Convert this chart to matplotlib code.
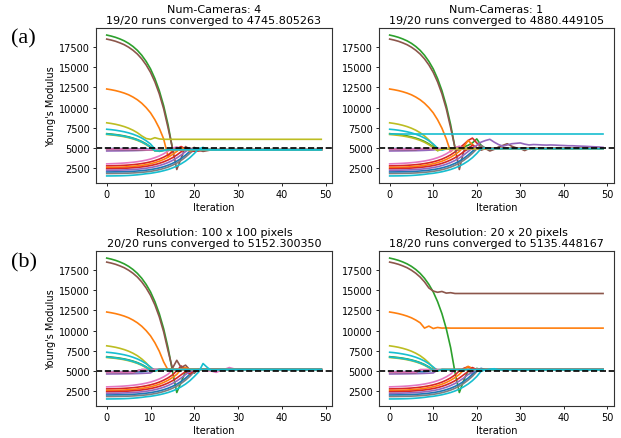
"""
Young's modulus estimation runs: convergence per iteration, four panels
(num-cameras 4 / 1, resolution 100x100 / 20x20).
"""

import matplotlib
matplotlib.use("Agg")
import matplotlib.pyplot as plt

iterations = list(range(50))
true_modulus = 5000

# ---------------------------------------------------------------------------
# Shared start of each run (same initial guesses in all four experiments)
# ---------------------------------------------------------------------------
green_hi = [19000, 18875, 18720, 18520, 18280, 17970, 17580, 17100, 16490,
            15730, 14800, 13590, 12100, 10220, 7870]
brown_hi = [18500, 18380, 18230, 18030, 17800, 17490, 17110, 16640, 16040, 15290]
brown_hi_drop = [14370, 13180, 11700, 9840, 7500]
orange_hi = [12300, 12210, 12100, 11960, 11790, 11580, 11300, 10960]
orange_hi_drop = [10530, 9990, 9340, 8480, 7430, 6100]
olive_hi = [8100, 8020, 7920, 7790, 7630, 7430, 7180, 6870, 6470]
olive_hi_drop = [5980, 5370]
cyan_hi = [7300, 7250, 7180, 7090, 6985, 6850, 6680, 6470, 6210, 5875, 5470]
green_md = [6750, 6700, 6640, 6565, 6470, 6350, 6200, 6015, 5780, 5485, 5120]
olive_md = [6650, 6600, 6540, 6465, 6370, 6250, 6100, 5915, 5680, 5385, 5020]
cyan_md = [6700]
cyan_md_drop = [6650, 6590, 6515, 6420, 6300, 6150, 5965, 5730, 5435, 5070]
blue_near = [4900, 4900, 4898, 4895, 4890, 4885, 4880, 4875, 4870]
purple_near = [4600, 4605, 4610, 4615, 4622, 4630, 4640, 4655, 4675, 4700, 4730]
brown_near = [4800, 4800, 4798, 4795, 4790, 4785, 4780]
pink_near = [4850, 4850, 4848, 4845, 4840, 4835, 4830]
pink_lo = [3000, 3018, 3040, 3068, 3103, 3146, 3201, 3270, 3356, 3464, 3596,
           3769, 3980, 4246, 4580]
red_lo = [2750, 2760, 2775, 2795, 2820, 2855, 2900, 2960, 3035, 3130, 3250,
          3400, 3590, 3830, 4120, 4480]
orange_lo = [2550, 2558, 2570, 2588, 2612, 2645, 2690, 2745, 2815, 2905, 3015,
             3155, 3330, 3550, 3820, 4150, 4550]
red_lo2 = [2400, 2406, 2416, 2430, 2450, 2478, 2514, 2560, 2620, 2695, 2790,
           2910, 3060, 3250, 3480, 3760, 4100, 4500]
purple_lo = [2200, 2205, 2213, 2225, 2242, 2265, 2296, 2336, 2388, 2455, 2540,
             2648, 2785, 2955, 3165, 3420, 3730, 4100, 4530]
blue_lo = [2000, 2004, 2011, 2021, 2035, 2055, 2081, 2115, 2159, 2216, 2289,
           2382, 2500, 2648, 2832, 3060, 3340, 3680, 4090, 4570]
gray_lo = [1800, 1804, 1810, 1819, 1832, 1850, 1874, 1906, 1948, 2002, 2072,
           2162, 2276, 2420, 2600, 2825, 3100, 3435, 3840, 4320]
cyan_lo = [1500, 1503, 1510, 1520, 1535, 1560, 1595, 1640, 1700, 1775, 1830,
           1920, 2020, 2150, 2300, 2490, 2720, 3010, 3350, 3770, 4290]

run_starts = [blue_near, orange_hi, green_hi, red_lo, purple_near, brown_hi,
              pink_lo, gray_lo, olive_hi, cyan_hi, blue_lo, orange_lo,
              green_md, red_lo2, purple_lo, brown_near, pink_near, olive_md,
              cyan_md, cyan_lo]
run_colors = ["tab:blue", "tab:orange", "tab:green", "tab:red", "tab:purple",
              "tab:brown", "tab:pink", "tab:gray", "tab:olive", "tab:cyan",
              "tab:blue", "tab:orange", "tab:green", "tab:red", "tab:purple",
              "tab:brown", "tab:pink", "tab:olive", "tab:cyan", "tab:cyan"]

# ---------------------------------------------------------------------------
# Per-experiment continuation of each run (last value is held to iteration 49)
# ---------------------------------------------------------------------------
cam4_tails = [
    [4850, 4800, 4760, 4750],
    orange_hi_drop + [3900, 4700, 4950, 4650, 4800, 4750],
    [4950, 4600, 5050, 4800, 4700, 4750],
    [4900, 5150, 4850, 4700, 4750],
    [4750, 4740, 4750],
    brown_hi_drop + [5000, 2300, 3700, 5150, 4800, 5050, 4700, 4550, 4650, 4750],
    [4950, 5100, 4850, 4750],
    [4750, 4900, 4700, 4750],
    [6150, 6050, 6250, 6100, 6050],
    [4850, 4550, 4650, 4700, 4750],
    [4950, 4800, 4750],
    [5000, 4800, 4600, 4750],
    [4650, 4600, 4700, 4750],
    [4900, 4750, 4550, 4600, 4750],
    [4900, 4700, 4750],
    [4770, 4760, 4750],
    [4820, 4800, 4760, 4750],
    [4600, 4650, 4700, 4750],
    cyan_md_drop + [4620, 4600, 4680, 4750],
    [4850, 5050, 4800, 4750],
]
cam1_tails = [
    [4880],
    orange_hi_drop + [4500, 5000, 5100, 4900, 4880],
    [5000, 4700, 5100, 5300, 5600, 6100, 5300, 4900, 4880],
    [4950, 5400, 5900, 6200, 5600, 5100, 4880],
    [4800, 4880],
    brown_hi_drop + [5000, 2300, 4600, 4800, 4900, 5000, 4700, 4900, 4600, 4800,
                     5100, 5300, 5500, 5200, 5000, 4900, 4650, 4900, 4880],
    [5000, 5200, 4900, 4880],
    [4850, 5300, 4950, 4880],
    olive_hi_drop + [4700, 4850, 4880],
    [4950, 4700, 4850, 4880],
    [5000, 4880],
    [5100, 5900, 5400, 5000, 4880],
    [4650, 4850, 4880],
    [4950, 5300, 5000, 4880],
    [4950, 5300, 5700, 5900, 6050, 5700, 5400, 5200, 5350, 5500, 5550, 5600,
     5450, 5350, 5400, 5380, 5350, 5330, 5350, 5330, 5300, 5280, 5250, 5250,
     5220, 5200, 5180, 5150, 5120, 5100, 5050],
    [4870, 4880],
    [4870, 4880],
    [4650, 4800, 4880],
    [6700],
    [4900, 4950, 4880],
]
res100_tails = [
    [4950, 5100, 5150],
    orange_hi_drop + [5100, 5300, 5150],
    [5000, 2300, 3600, 4900, 4600, 5000, 5150],
    [5000, 5600, 5200, 5150],
    [5100, 5150],
    brown_hi_drop + [5300, 6300, 5400, 5700, 5100, 4700, 5200, 5150],
    [5100, 5250, 5150, 5100, 5200, 5150, 5100, 5050, 5000, 4950, 4800, 5050,
     5200, 5400, 5250, 5150],
    [4900, 5150],
    olive_hi_drop + [5100, 5000, 5150],
    [5000, 5150],
    [5050, 5150],
    [5200, 5400, 5150],
    [5050, 5150],
    [4900, 4600, 5000, 5150],
    [4900, 5100, 5150],
    [5000, 5150],
    [5000, 5150],
    [4950, 5150],
    cyan_md_drop + [4950, 5150],
    [4850, 5900, 5400, 5000, 5100, 5150],
]
res20_tails = [
    [4950, 5100, 5135],
    [10300, 10550, 10250, 10380, 10300, 10320, 10300],
    [4800, 2300, 3800, 5000, 4700, 5300, 5135],
    [5000, 5300, 5500, 5200, 5135],
    [5100, 5135],
    [14900, 14750, 14850, 14650, 14700, 14600],
    [5100, 5200, 5135],
    [4900, 5135],
    olive_hi_drop + [5100, 5135],
    [5000, 5150, 5135],
    [5050, 5300, 5135],
    [5100, 5550, 5300, 5135],
    [5000, 5135],
    [4900, 5400, 5135],
    [4800, 5200, 5135],
    [5135],
    [5135],
    [5000, 5135],
    cyan_md_drop + [5000, 5135],
    [4950, 5100, 5200, 5250, 5135],
]

panel_titles = [
    "Num-Cameras: 4\n19/20 runs converged to 4745.805263",
    "Num-Cameras: 1\n19/20 runs converged to 4880.449105",
    "Resolution: 100 x 100 pixels\n20/20 runs converged to 5152.300350",
    "Resolution: 20 x 20 pixels\n18/20 runs converged to 5135.448167",
]
panel_tails = [cam4_tails, cam1_tails, res100_tails, res20_tails]
x_ticks = [0, 10, 20, 30, 40, 50]
y_ticks = [2500, 5000, 7500, 10000, 12500, 15000, 17500]


def full_run(start, tail):
    vals = start + tail
    return vals + [vals[-1]] * (len(iterations) - len(vals))


fig = plt.figure(figsize=(6.21, 4.39), dpi=100)
ax_boxes = [
    [0.1546, 0.5809, 0.380, 0.353],
    [0.6103, 0.5809, 0.378, 0.353],
    [0.1546, 0.0729, 0.380, 0.353],
    [0.6103, 0.0729, 0.378, 0.353],
]

for k, box in enumerate(ax_boxes):
    ax = fig.add_axes(box)
    for start, tail, color in zip(run_starts, panel_tails[k], run_colors):
        ax.plot(iterations, full_run(start, tail), color=color, linewidth=1.2)
    ax.axhline(true_modulus, color="black", linestyle="--", linewidth=1.2)
    ax.set_title(panel_titles[k], fontsize=8.0, pad=3.5, linespacing=1.1)
    ax.set_xlabel("Iteration", fontsize=7.0, labelpad=2)
    if k % 2 == 0:
        ax.set_ylabel("Young's Modulus", fontsize=7.0, labelpad=2)
    ax.set_xticks(x_ticks)
    ax.set_yticks(y_ticks)
    ax.tick_params(labelsize=7.0, length=2.5, width=0.6, pad=2)
    for sp in ax.spines.values():
        sp.set_linewidth(0.8)
        sp.set_color("#333333")

fig.text(0.037, 0.911, "(a)", fontsize=16, family="Liberation Serif",
         ha="center", va="center")
fig.text(0.039, 0.401, "(b)", fontsize=16, family="Liberation Serif",
         ha="center", va="center")

fig.savefig("out.png", dpi=100)
